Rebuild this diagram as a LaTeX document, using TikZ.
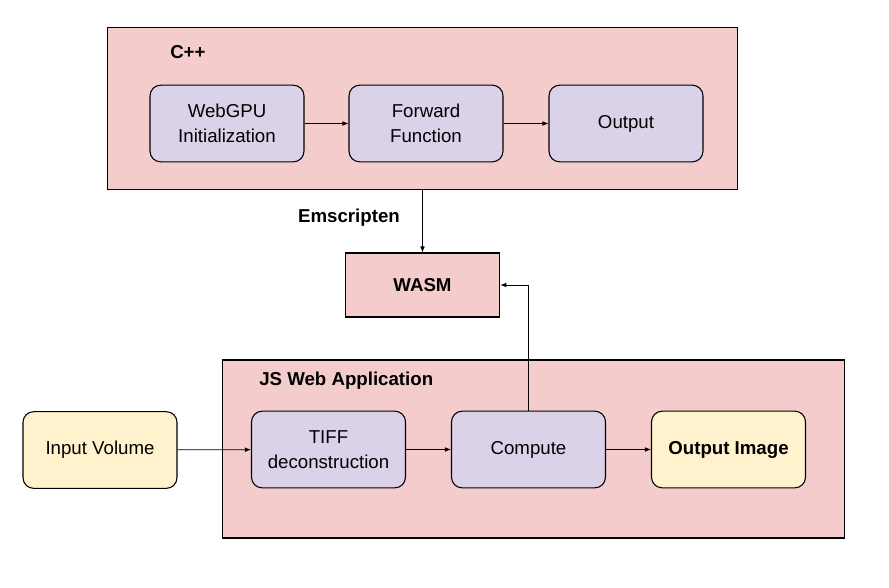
\documentclass[tikz,border=0pt]{standalone}
\usepackage{fontspec}
\setmainfont{Liberation Sans}
\usetikzlibrary{arrows.meta,positioning}

\definecolor{boxpink}{HTML}{F4CCCC}
\definecolor{boxlilac}{HTML}{D9D2E9}
\definecolor{boxyellow}{HTML}{FFF2CC}

\tikzset{
	group/.style={draw, fill=boxpink, line width=0.8pt, inner sep=0pt},
	block/.style={draw, rounded corners=8pt, line width=0.8pt, align=center,
		minimum width=115.5pt, minimum height=57.5pt, font=\fontsize{14}{18.5}\selectfont},
	proc/.style={block, fill=boxlilac},
	io/.style={block, fill=boxyellow},
	title/.style={font=\fontsize{14}{18.5}\selectfont\bfseries},
	link/.style={-{Latex[length=4.5pt,width=3.5pt]}, line width=0.6pt}
}

\begin{document}
\begin{tikzpicture}[x=0.75pt,y=-0.75pt]
\useasboundingbox (0,0) rectangle (889,587);

% outer groups
\node[group, minimum width=473pt, minimum height=122pt] (cpp) at (422.5,108.5) {};
\node[group, minimum width=467pt, minimum height=133.5pt] (js) at (533.5,449) {};
\node[title, anchor=west, inner sep=0pt] (cpplabel) at (170,52) {C++};
\node[title, anchor=west, inner sep=0pt] (jslabel) at (259,381) {JS Web Application};

% C++ side
\node[proc] (init) at (227,123.5) {WebGPU\\Initialization};
\node[proc] (forward) at (426,123.5) {Forward\\Function};
\node[proc] (output) at (626,123.5) {Output};

% wasm
\node[group, minimum width=116pt, minimum height=48pt, title] (wasm) at (422.5,285) {WASM};
\node[title] (emlabel) at (349,218) {Emscripten};

% JS side
\node[io] (input) at (100,450) {Input Volume};
\node[proc] (tiff) at (328.5,449.5) {TIFF\\deconstruction};
\node[proc] (compute) at (528.5,449.5) {Compute};
\node[io, font=\fontsize{14}{18.5}\selectfont\bfseries] (outimg) at (728.5,449.5) {Output Image};

% connectors
\draw[link] (init) -- (forward);
\draw[link] (forward) -- (output);
\draw[link] (cpp.south -| wasm.north) -- (wasm.north);
\draw[link] (compute.north) |- (wasm.east);
\draw[link] (input) -- (tiff);
\draw[link] (tiff) -- (compute);
\draw[link] (compute) -- (outimg);

\end{tikzpicture}
\end{document}
